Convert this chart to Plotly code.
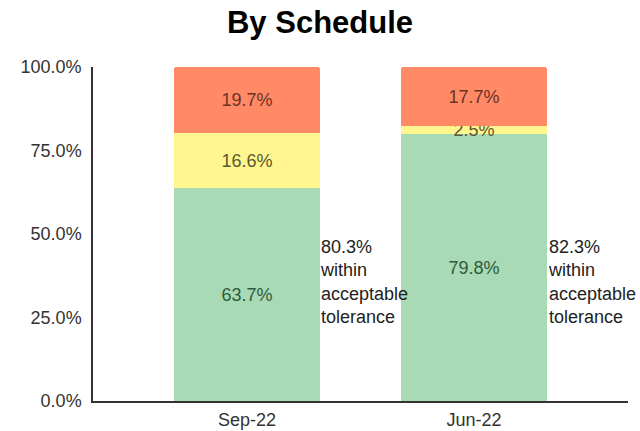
import plotly.graph_objects as go

categories = ["Sep-22", "Jun-22"]
green_vals = [63.7, 79.8]
yellow_vals = [16.6, 2.5]
red_vals = [19.7, 17.7]
within_vals = [80.3, 82.3]
y_ticks = [0, 25, 50, 75, 100]

font_family = "Liberation Sans, Arial, sans-serif"

fig = go.Figure()
series = [
    (green_vals, "#A8DAB5", "#2f5a3c"),
    (yellow_vals, "#FFF68F", "#5a5830"),
    (red_vals, "#FF8A65", "#6b3326"),
]
for vals, color, tcolor in series:
    fig.add_trace(go.Bar(
        x=[0, 1], y=vals,
        marker=dict(color=color, line=dict(width=0)),
        text=[f"{v:.1f}%" for v in vals],
        textposition="inside",
        insidetextanchor="middle",
        constraintext="none",
        textfont=dict(family=font_family, size=18, color=tcolor),
        width=0.643,
        hoverinfo="skip",
        showlegend=False,
    ))

for i, w in enumerate(within_vals):
    fig.add_annotation(
        x=i + 0.315, y=35.5, xref="x", yref="y",
        text=f"{w:.1f}%<br>within<br>acceptable<br>tolerance",
        showarrow=False, xanchor="left", yanchor="middle", align="left",
        font=dict(family=font_family, size=18, color="#222222"),
    )

fig.update_layout(
    barmode="stack",
    barcornerradius=3,
    width=640, height=431,
    margin=dict(l=93, r=12, t=67, b=30),
    paper_bgcolor="white", plot_bgcolor="white",
    title=dict(text="<b>By Schedule</b>", x=0.5, xanchor="center", y=1 - 22 / 431, yanchor="middle",
               font=dict(family=font_family, size=31, color="#000000")),
)
fig.update_xaxes(
    range=[-0.678, 1.678], tickvals=[0, 1], ticktext=categories, automargin=False,
    showline=True, linecolor="#333333", linewidth=1.5, showgrid=False, zeroline=False,
    tickfont=dict(family=font_family, size=18, color="#333333"), ticks="",
    ticklabelstandoff=2,
)
fig.update_yaxes(
    range=[0, 100], tickvals=y_ticks, ticktext=[f"{v:.1f}%" for v in y_ticks], automargin=False,
    showline=True, linecolor="#333333", linewidth=1.5, showgrid=False, zeroline=False,
    tickfont=dict(family=font_family, size=18, color="#333333"), ticks="",
    ticklabelstandoff=6,
)
fig.write_html("out.html", config={"displayModeBar": False},
               post_script="document.body.style.margin='0';document.body.style.overflow='hidden';")
